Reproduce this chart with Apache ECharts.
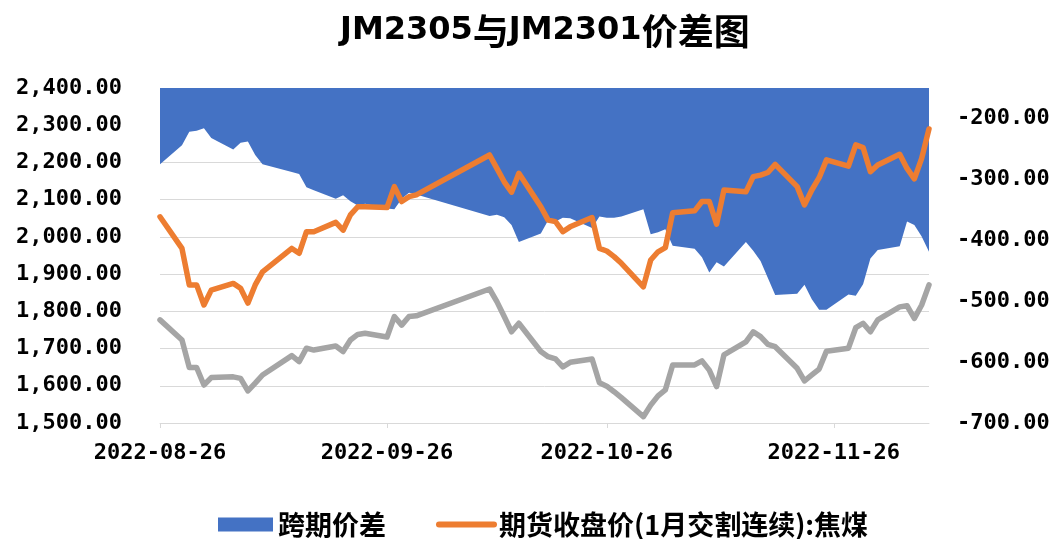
<!DOCTYPE html>
<html>
<head>
<meta charset="utf-8">
<script src="https://cdn.jsdelivr.net/npm/echarts@6/dist/echarts.min.js"></script>
<style>
html,body{margin:0;padding:0;background:#fff;}
#chart{width:1054px;height:539px;}
</style>
</head>
<body>
<div id="chart"></div>
<script>
const dates = ['2022-08-26','2022-08-29','2022-08-30','2022-08-31','2022-09-01','2022-09-02','2022-09-05','2022-09-06','2022-09-07','2022-09-08','2022-09-09',
'2022-09-13','2022-09-14','2022-09-15','2022-09-16','2022-09-19','2022-09-20','2022-09-21','2022-09-22','2022-09-23','2022-09-26','2022-09-27','2022-09-28','2022-09-29','2022-09-30',
'2022-10-10','2022-10-11','2022-10-12','2022-10-13','2022-10-14','2022-10-17','2022-10-18','2022-10-19','2022-10-20','2022-10-21','2022-10-24','2022-10-25','2022-10-26','2022-10-27','2022-10-28','2022-10-31',
'2022-11-01','2022-11-02','2022-11-03','2022-11-04','2022-11-07','2022-11-08','2022-11-09','2022-11-10','2022-11-11','2022-11-14','2022-11-15','2022-11-16','2022-11-17','2022-11-18','2022-11-21','2022-11-22','2022-11-23','2022-11-24','2022-11-25','2022-11-28','2022-11-29','2022-11-30',
'2022-12-01','2022-12-02','2022-12-05','2022-12-06','2022-12-07','2022-12-08','2022-12-09'];

// 跨期价差 (right axis)
const spread = [-275,-244,-222,-220,-216,-232,-251,-240,-238,-260,-275,
-288,-291,-313,-318,-332,-326,-336,-343,-340,-348,-349,-332,-322,-325,
-360,-358,-362,-375,-403,-389,-367,-369,-363,-364,-380,-361,-363,-363,-361,-349,
-390,-387,-382,-409,-414,-428,-453,-436,-443,-403,-417,-434,-462,-490,-488,-473,-497,-514,-514,-489,-491,-472,
-430,-416,-410,-369,-375,-394,-419];

// 期货收盘价(1月交割连续):焦煤 (left axis)
const jm2301 = [2054,1969,1871,1871,1817,1857,1875,1862,1822,1871,1906,
1969,1956,2014,2014,2039,2018,2059,2081,2081,2079,2135,2095,2108,2113,
2220,2184,2148,2120,2171,2081,2045,2041,2014,2027,2052,1969,1962,1947,1929,1866,
1938,1960,1971,2065,2070,2095,2095,2034,2126,2121,2162,2166,2173,2195,2135,2086,2126,2159,2207,2190,2247,2240,
2175,2193,2222,2184,2156,2211,2290];

// JM2305 (left axis, grey line, not in legend)
const jm2305 = [1777,1723,1649,1649,1602,1622,1624,1620,1586,1607,1629,
1681,1665,1701,1696,1707,1692,1723,1738,1741,1731,1786,1763,1786,1788,
1860,1826,1786,1745,1768,1692,1678,1672,1651,1663,1672,1608,1599,1584,1568,1517,
1548,1573,1589,1656,1656,1667,1642,1598,1683,1718,1745,1732,1711,1705,1647,1613,1629,1645,1693,1701,1756,1768,
1745,1777,1812,1815,1781,1817,1871];

const xTickLabels = ['2022-08-26','2022-09-26','2022-10-26','2022-11-26'];
const titleParts = ['JM2305', '与', 'JM2301', '价差图'];
const spreadName = '跨期价差';
const closeName = '期货收盘价(1月交割连续):焦煤';
const grayName = 'JM2305';

const ts = s => echarts.time.parse(s).getTime();
const pair = arr => dates.map((d, i) => [ts(d), arr[i]]);
const tickVals = xTickLabels.map(ts);
const pad = n => (n < 10 ? '0' : '') + n;
const fmtDate = v => { const d = new Date(v); return d.getFullYear() + '-' + pad(d.getMonth() + 1) + '-' + pad(d.getDate()); };

const labelFont = {fontFamily: "'DejaVu Sans Mono', monospace", fontWeight: 'bold', fontSize: 22, color: '#000'};

const chart = echarts.init(document.getElementById('chart'), null, {renderer: 'canvas'});
chart.setOption({
  animation: false,
  backgroundColor: '#fff',
  title: {
    text: '{l|' + titleParts[0] + '}{c|' + titleParts[1] + '}{l|' + titleParts[2] + '}{c|' + titleParts[3] + '}',
    left: 335, top: 8,
    textStyle: {
      fontWeight: 'bold', color: '#000',
      rich: {
        l: {fontFamily: "'DejaVu Sans', sans-serif", fontWeight: 'bold', fontSize: 32, color: '#000'},
        c: {fontFamily: "'Noto Sans CJK SC', sans-serif", fontWeight: 'bold', fontSize: 36, color: '#000'}
      }
    }
  },
  legend: {
    left: 213, top: 506,
    itemWidth: 55, itemHeight: 14, itemGap: 50,
    textStyle: {fontFamily: "'Noto Sans CJK SC', sans-serif", fontWeight: 'bold', fontSize: 27, color: '#000'},
    data: [
      {name: spreadName, icon: 'rect'},
      {name: closeName, itemStyle: {color: 'rgba(0,0,0,0)', borderWidth: 0, opacity: 0}, lineStyle: {width: 6, cap: 'round'}}
    ]
  },
  grid: {left: 160, right: 125, top: 88, bottom: 116},
  xAxis: {
    type: 'value',
    min: ts(dates[0]), max: ts(dates[dates.length - 1]),
    axisLine: {show: true, onZero: false, lineStyle: {color: '#D9D9D9', width: 1}},
    axisTick: {show: true, length: 5, lineStyle: {color: '#D9D9D9'}, customValues: tickVals},
    axisLabel: Object.assign({}, labelFont, {
      margin: 19,
      customValues: tickVals,
      formatter: v => fmtDate(v)
    }),
    splitLine: {show: false}
  },
  yAxis: [
    {
      type: 'value', min: 1500, max: 2400, interval: 100,
      axisLine: {show: false}, axisTick: {show: false},
      splitLine: {show: true, lineStyle: {color: '#D9D9D9', width: 1}},
      axisLabel: Object.assign({}, labelFont, {
        margin: 38,
        formatter: v => v.toLocaleString('en-US', {minimumFractionDigits: 2, maximumFractionDigits: 2})
      })
    },
    {
      type: 'value', min: -700, max: -150, interval: 100,
      axisLine: {show: false}, axisTick: {show: false},
      splitLine: {show: false},
      axisLabel: Object.assign({}, labelFont, {
        margin: 28, showMaxLabel: false,
        formatter: v => v.toFixed(2)
      })
    }
  ],
  series: [
    {
      name: spreadName, type: 'line', yAxisIndex: 1,
      data: pair(spread), symbol: 'none', showSymbol: false,
      lineStyle: {width: 0, color: '#4472C4'},
      itemStyle: {color: '#4472C4'},
      areaStyle: {color: '#4472C4', opacity: 1, origin: 'end'},
      z: 1
    },
    {
      name: grayName, type: 'line', yAxisIndex: 0,
      data: pair(jm2305), symbol: 'none', showSymbol: false,
      lineStyle: {width: 5.5, color: '#A5A5A5', cap: 'round', join: 'round'},
      itemStyle: {color: '#A5A5A5'},
      z: 2
    },
    {
      name: closeName, type: 'line', yAxisIndex: 0,
      data: pair(jm2301), symbol: 'none', showSymbol: false,
      lineStyle: {width: 5.5, color: '#ED7D31', cap: 'round', join: 'round'},
      itemStyle: {color: '#ED7D31'},
      z: 3
    }
  ]
});
</script>
</body>
</html>
